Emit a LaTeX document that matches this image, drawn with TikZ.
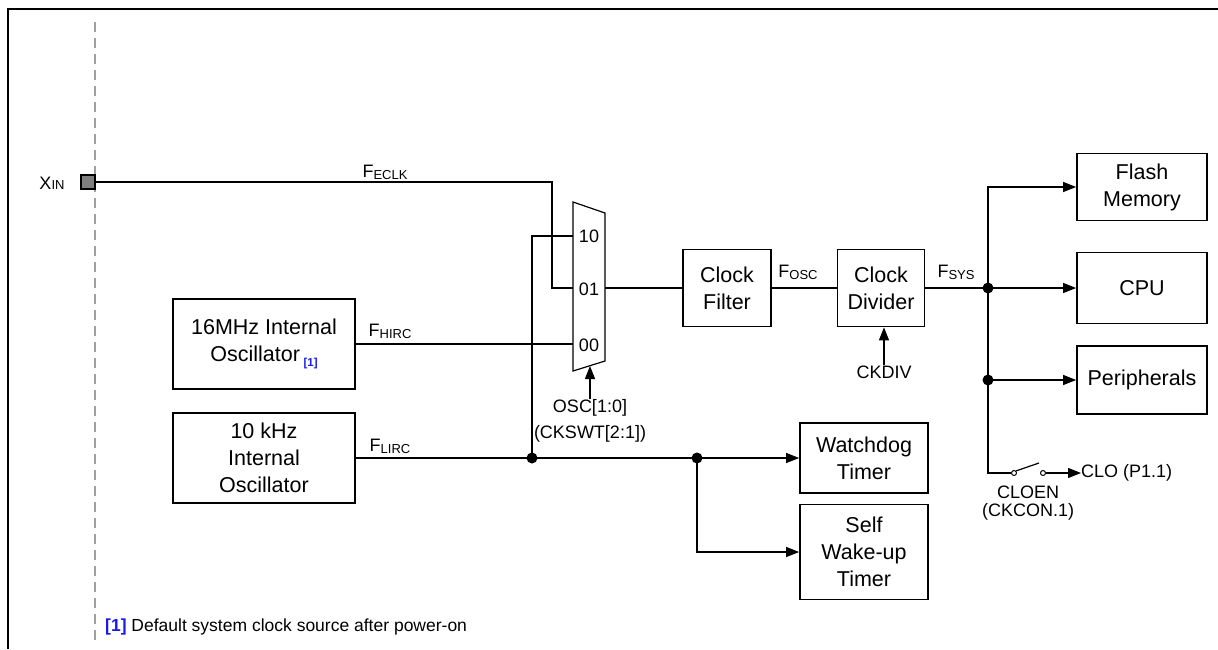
\documentclass[tikz,border=0pt]{standalone}
\usepackage{fontspec}
\setmainfont{Liberation Sans}
\usetikzlibrary{arrows.meta}
\definecolor{pingray}{RGB}{128,128,128}
\definecolor{fnblue}{RGB}{25,25,235}
\newcommand{\sigF}[1]{F\raisebox{-2pt}{\fontsize{13}{12}\selectfont #1}}
\begin{document}
\begin{tikzpicture}[x=1pt,y=-1pt,
  box/.style={draw, line width=1.7pt, align=center, font=\fontsize{21.5}{27}\selectfont, inner sep=0pt},
  wire/.style={line width=1.2pt},
  arr/.style={wire, -{Triangle[length=13pt,width=10pt]}},
  jdot/.style={circle, fill, inner sep=0pt, minimum size=11pt},
  lbl/.style={font=\fontsize{18}{22}\selectfont, inner sep=0pt},
  swc/.style={circle, draw, fill=white, inner sep=0pt, minimum size=5pt, line width=1pt}]
\useasboundingbox (0,0) rectangle (1218,649);
% frame
\draw[line width=2pt] (8,649) -- (8,9) -- (1218,9);
% dashed boundary
\draw[gray!75, line width=2pt, dash pattern=on 10pt off 6pt] (95,22) -- (95,640);
% pin
\node[draw, fill=pingray, line width=1.2pt, minimum size=14pt, inner sep=0pt] (xin) at (88,182) {};
\node[lbl] (xinl) at (52,183) {X{\fontsize{13}{12}\selectfont IN}};
% boxes
\node[box, minimum width=182pt, minimum height=90pt] (hirc) at (264,344) {16MHz Internal\\Oscillator\,\raisebox{-5pt}{\fontsize{11.5}{11}\selectfont\bfseries\color{fnblue}[1]}};
\node[box, minimum width=182pt, minimum height=90pt] (lirc) at (264,458) {10 kHz\\Internal\\Oscillator};
\node[box, minimum width=88pt, minimum height=77pt] (filter) at (727,288) {Clock\\Filter};
\node[box, minimum width=87pt, minimum height=77pt] (divider) at (881,288) {Clock\\Divider};
\node[box, minimum width=130pt, minimum height=67pt] (flash) at (1142,187) {Flash\\Memory};
\node[box, minimum width=130pt, minimum height=71pt] (cpu) at (1142,288) {CPU};
\node[box, minimum width=130pt, minimum height=68pt] (periph) at (1142,380) {Peripherals};
\node[box, minimum width=128pt, minimum height=70pt] (wdt) at (864,458) {Watchdog\\Timer};
\node[box, minimum width=128pt, minimum height=95pt] (swt) at (864,552) {Self\\Wake-up\\Timer};
% mux
\draw[wire] (573,202) -- (605,213) -- (605,361) -- (573,371) -- cycle;
\coordinate (m10) at (573,236);
\coordinate (m01) at (573,288);
\coordinate (m00) at (573,344);
\coordinate (mout) at (605,288);
\coordinate (mbot) at (590,366);
\node[lbl] (i10) at (589,236) {10};
\node[lbl] (i01) at (589,289) {01};
\node[lbl] (i00) at (589,345) {00};
% junctions
\coordinate (e1) at (552,182);
\node[jdot] (j1) at (532,458) {};
\node[jdot] (j2) at (697,458) {};
\node[jdot] (j3) at (988,288) {};
\node[jdot] (j4) at (988,380) {};
% wires
\draw[wire] (xin.east) -- (e1) |- (m01);
\draw[wire] (hirc.east |- m00) -- (m00);
\draw[arr] (lirc.east) -- (wdt.west);
\draw[wire] (j1.center) |- (m10);
\draw[arr] (j2.center) |- (swt.west);
\draw[wire] (mout) -- (filter.west);
\draw[wire] (filter.east) -- (divider.west);
\draw[arr] (divider.east) -- (cpu.west);
\draw[arr] (j4.center) -- (periph.west);
% switch
\node[swc] (swl) at (1014,473) {};
\node[swc] (swr) at (1043,473) {};
\coordinate (blade) at (1039,463);
\node[lbl, anchor=west] (clo) at (1081,473) {CLO (P1.1)};
\draw[arr] (swl.west) -| (j3.center) |- (flash.west);
\draw[wire] (swl.north east) -- (blade);
\draw[arr] (swr.east) -- (clo.west);
\node[lbl] (cloen) at (1028,492) {CLOEN};
\node[lbl] (ckcon) at (1028,512) {(CKCON.1)};
% control inputs
\node[lbl] (osc) at (590,408) {OSC[1:0]};
\node[lbl] (ckswt) at (590,434) {(CKSWT[2:1])};
\draw[arr] (osc.north) -- (mbot);
\node[lbl] (ckdiv) at (884,372) {CKDIV};
\draw[arr] (ckdiv.north) -- (ckdiv.north |- divider.south);
% signal labels
\node[lbl] (feclk) at (385,172) {\sigF{ECLK}};
\node[lbl] (fhirc) at (390,331) {\sigF{HIRC}};
\node[lbl] (flirc) at (390,446) {\sigF{LIRC}};
\node[lbl] (fosc) at (798,272) {\sigF{OSC}};
\node[lbl] (fsys) at (956,272) {\sigF{SYS}};
% footnote
\node[anchor=west, font=\fontsize{17.5}{20}\selectfont, inner sep=0pt] (fn) at (105,627) {{\color{fnblue}\bfseries [1]} Default system clock source after power-on};
\end{tikzpicture}
\end{document}
